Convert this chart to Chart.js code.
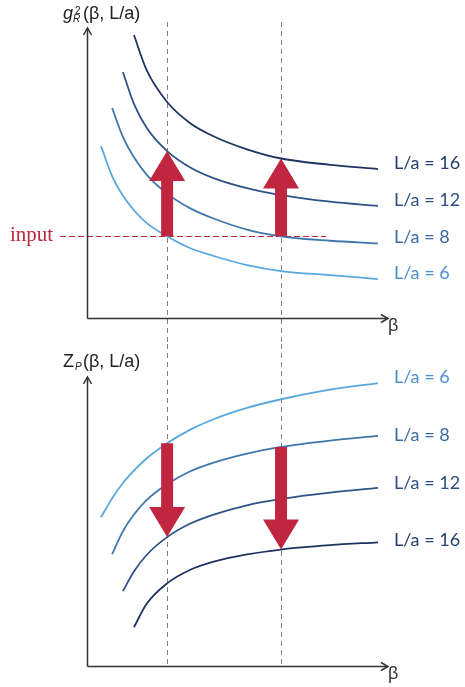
<!DOCTYPE html>
<html>
<head>
<meta charset="utf-8">
<script src="https://cdn.jsdelivr.net/npm/chart.js@4"></script>
<style>
  html, body { margin: 0; padding: 0; background: #fff; overflow: hidden; }
  canvas { display: block; }
</style>
</head>
<body>
<canvas id="top-chart" width="465" height="344"></canvas>
<canvas id="bottom-chart" width="465" height="343"></canvas>
<script>
// beta grid shared by all curves (arbitrary units)
const beta = [0.47, 0.84, 1.2, 1.57, 2.0, 2.68, 3.44, 4.21, 5.35, 6.49, 8.13, 9.73];

// g_R^2(beta, L/a), top panel
const gR6  = [1.779, 1.468, 1.267, 1.115, 0.982, 0.845, 0.724, 0.644, 0.548, 0.486, 0.444, 0.403];
const gR8  = [null, 2.172, 1.874, 1.662, 1.481, 1.287, 1.137, 1.032, 0.915, 0.845, 0.799, 0.771];
const gR12 = [null, null, 2.545, 2.216, 1.966, 1.727, 1.560, 1.450, 1.343, 1.272, 1.204, 1.159];
const gR16 = [null, null, null, 2.927, 2.561, 2.234, 2.018, 1.883, 1.745, 1.650, 1.585, 1.541];

// Z_P(beta, L/a), bottom panel
const zP6  = [0.515, 0.580, 0.633, 0.676, 0.719, 0.771, 0.817, 0.853, 0.893, 0.923, 0.956, 0.979];
const zP8  = [null, 0.387, 0.466, 0.524, 0.575, 0.629, 0.673, 0.703, 0.735, 0.758, 0.780, 0.796];
const zP12 = [null, null, 0.259, 0.327, 0.385, 0.446, 0.492, 0.523, 0.556, 0.578, 0.600, 0.616];
const zP16 = [null, null, null, 0.134, 0.216, 0.286, 0.332, 0.360, 0.386, 0.403, 0.418, 0.428];

const sizes = ['6', '8', '12', '16'];
const lineColors = ['#58a7dd', '#3f77ab', '#2d5387', '#1e3361'];
const textColors = ['#4a8fcf', '#3b6ba3', '#2d4f83', '#243e6d'];
const red = '#c0263f';

// the two beta values where we look (dashed guides), index into beta
const lookAt = [5, 9];

function makeSets(series) {
  return series.map((vals, i) => ({
    label: 'L/a = ' + sizes[i],
    data: beta.map((b, k) => vals[k] == null ? null : { x: b, y: vals[k] }).filter(p => p),
    borderColor: lineColors[i],
    borderWidth: 1.8,
    pointRadius: 0,
    fill: false,
    cubicInterpolationMode: 'monotone',
  }));
}

function line(ctx, x1, y1, x2, y2) {
  ctx.beginPath();
  ctx.moveTo(x1, y1);
  ctx.lineTo(x2, y2);
  ctx.stroke();
}

// block arrow from yFrom (tail) to yTo (tip), vertical
function blockArrow(ctx, x, yFrom, yTo) {
  const dir = yTo < yFrom ? -1 : 1;
  const shaft = 6, head = 18, headLen = 30;
  const base = yTo - dir * headLen;
  ctx.beginPath();
  ctx.moveTo(x - shaft, yFrom);
  ctx.lineTo(x - shaft, base);
  ctx.lineTo(x - head, base);
  ctx.lineTo(x, yTo);
  ctx.lineTo(x + head, base);
  ctx.lineTo(x + shaft, base);
  ctx.lineTo(x + shaft, yFrom);
  ctx.closePath();
  ctx.fillStyle = red;
  ctx.fill();
}

function drawAxes(ctx, area) {
  const l = Math.round(area.left) + 0.5, b = Math.round(area.bottom) + 0.5;
  ctx.save();
  ctx.strokeStyle = '#333';
  ctx.lineWidth = 1.5;
  line(ctx, l, b, l, area.top);
  line(ctx, l, b, area.right + 2, b);
  // open arrow heads
  ctx.beginPath();
  ctx.moveTo(l - 4, area.top + 7); ctx.lineTo(l, area.top); ctx.lineTo(l + 4, area.top + 7);
  ctx.moveTo(area.right - 5, b - 4); ctx.lineTo(area.right + 2, b); ctx.lineTo(area.right - 5, b + 4);
  ctx.stroke();
  ctx.fillStyle = '#333';
  ctx.font = '18px "Liberation Sans", Arial, sans-serif';
  ctx.textBaseline = 'alphabetic';
  ctx.textAlign = 'left';
  ctx.fillText('β', area.right + 2, b + 12);
  ctx.restore();
}

function drawLabels(ctx, chart, series, offset) {
  const { x, y } = chart.scales;
  ctx.save();
  ctx.font = '18px Lato, "Open Sans", sans-serif';
  ctx.textBaseline = 'middle';
  ctx.textAlign = 'left';
  series.forEach((vals, i) => {
    const last = vals[vals.length - 1];
    const py = y.getPixelForValue(last) + offset[i];
    ctx.fillStyle = textColors[i];
    ctx.fillText('L/a = ' + sizes[i], x.getPixelForValue(beta[beta.length - 1]) + 16, py);
  });
  ctx.restore();
}

function drawGuides(ctx, chart, y0, y1) {
  const { x } = chart.scales;
  ctx.save();
  ctx.strokeStyle = '#808080';
  ctx.lineWidth = 1;
  ctx.setLineDash([5, 4]);
  lookAt.forEach(k => {
    const px = Math.round(x.getPixelForValue(beta[k])) + 0.5;
    line(ctx, px, y0, px, y1);
  });
  ctx.restore();
}

const gSeries = [gR6, gR8, gR12, gR16];
const zSeries = [zP6, zP8, zP12, zP16];

const topDecor = {
  id: 'topDecor',
  beforeDatasetsDraw(chart) {
    const { ctx, scales: { x, y } } = chart;
    drawGuides(ctx, chart, 22, chart.height);
    // input line at the L/a = 6 value of the first guide
    ctx.save();
    ctx.strokeStyle = red;
    ctx.lineWidth = 1;
    ctx.setLineDash([6, 3]);
    const py = Math.round(y.getPixelForValue(gR6[lookAt[0]])) + 0.5;
    line(ctx, x.left - 27, py, x.getPixelForValue(8.0), py);
    ctx.restore();
    ctx.save();
    ctx.fillStyle = red;
    ctx.font = '21px "Liberation Serif", "Times New Roman", serif';
    ctx.textBaseline = 'alphabetic';
    ctx.fillText('input', 10, py + 4);
    ctx.restore();
  },
  afterDatasetsDraw(chart) {
    const { ctx, chartArea, scales: { x, y } } = chart;
    drawAxes(ctx, chartArea);
    blockArrow(ctx, x.getPixelForValue(beta[lookAt[0]]), y.getPixelForValue(gR6[lookAt[0]]), y.getPixelForValue(gR12[lookAt[0]]));
    blockArrow(ctx, x.getPixelForValue(beta[lookAt[1]]), y.getPixelForValue(gR8[lookAt[1]]), y.getPixelForValue(gR16[lookAt[1]]));
    drawLabels(ctx, chart, gSeries, [-6, -6, -6, -6]);
    // axis title g_R^2(beta, L/a)
    ctx.save();
    ctx.fillStyle = '#222';
    ctx.textBaseline = 'alphabetic';
    ctx.font = 'italic 18px "Liberation Sans", Arial, sans-serif';
    ctx.fillText('g', 63, 19);
    ctx.font = '10px "Liberation Sans", Arial, sans-serif';
    ctx.fillText('2', 75, 14);
    ctx.font = 'italic 10px "Liberation Sans", Arial, sans-serif';
    ctx.fillText('R', 73, 22);
    ctx.font = '18px "Liberation Sans", Arial, sans-serif';
    ctx.fillText('(β, L/a)', 83, 19);
    ctx.restore();
  }
};

const bottomDecor = {
  id: 'bottomDecor',
  beforeDatasetsDraw(chart) {
    drawGuides(chart.ctx, chart, 0, chart.chartArea.bottom);
  },
  afterDatasetsDraw(chart) {
    const { ctx, chartArea, scales: { x, y } } = chart;
    drawAxes(ctx, chartArea);
    blockArrow(ctx, x.getPixelForValue(beta[lookAt[0]]), y.getPixelForValue(zP6[lookAt[0]]), y.getPixelForValue(zP12[lookAt[0]]));
    blockArrow(ctx, x.getPixelForValue(beta[lookAt[1]]), y.getPixelForValue(zP8[lookAt[1]]), y.getPixelForValue(zP16[lookAt[1]]));
    drawLabels(ctx, chart, zSeries, [-6, -1, -5, -2]);
    // axis title Z_P(beta, L/a)
    ctx.save();
    ctx.fillStyle = '#222';
    ctx.textBaseline = 'alphabetic';
    ctx.font = '18px "Liberation Sans", Arial, sans-serif';
    ctx.fillText('Z', 63, 23);
    ctx.font = 'italic 10px "Liberation Sans", Arial, sans-serif';
    ctx.fillText('P', 75, 26);
    ctx.font = '18px "Liberation Sans", Arial, sans-serif';
    ctx.fillText('(β, L/a)', 83, 23);
    ctx.restore();
  }
};

function panelOptions(yMax, padding) {
  return {
    responsive: false,
    animation: false,
    devicePixelRatio: 1,
    layout: { padding },
    plugins: { legend: { display: false }, tooltip: { enabled: false } },
    scales: {
      x: { type: 'linear', min: 0, max: 10, display: false },
      y: { type: 'linear', min: 0, max: yMax, display: false },
    },
  };
}

new Chart(document.getElementById('top-chart'), {
  type: 'line',
  data: { datasets: makeSets(gSeries) },
  options: panelOptions(3.0, { left: 87, right: 79, top: 28, bottom: 26 }),
  plugins: [topDecor],
});

new Chart(document.getElementById('bottom-chart'), {
  type: 'line',
  data: { datasets: makeSets(zSeries) },
  options: panelOptions(1.0, { left: 87, right: 79, top: 33, bottom: 21 }),
  plugins: [bottomDecor],
});
</script>
</body>
</html>
